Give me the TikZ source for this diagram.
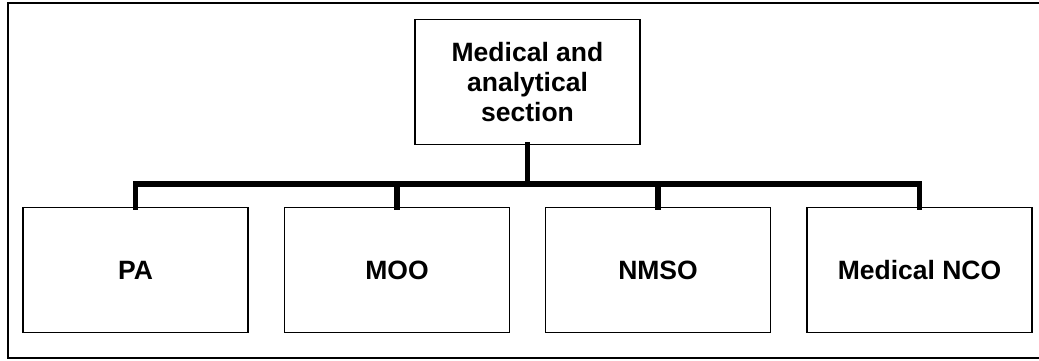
\documentclass[tikz,border=0pt]{standalone}
\usepackage{fontspec}
\setmainfont{Liberation Sans}
\begin{document}
\begin{tikzpicture}[x=1pt,y=-1pt,
  box/.style={draw=black,line width=1.5pt,fill=white,minimum width=225pt,minimum height=125pt,inner sep=0pt,align=center,font=\fontsize{26.5}{30}\selectfont\bfseries},
  bus/.style={line width=5.8pt,line join=miter,line cap=rect},
  frame/.style={line width=2.4pt}]
\useasboundingbox (0,0) rectangle (1039,360);
\draw[frame] (1041,3) -- (8,3) -- (8,358) -- (1041,358);
\node[box] (top) at (527.5,82) {Medical and\\analytical\\section};
\node[box] (pa) at (135.5,270) {PA};
\node[box] (moo) at (397,270) {MOO};
\node[box] (nmso) at (658,270) {NMSO};
\node[box] (nco) at (919.5,270) {Medical NCO};
\coordinate (busy) at (0,184);
\draw[bus] (pa.north) -- (pa.north |- busy) -- (nco.north |- busy) -- (nco.north);
\draw[bus] (top.south) -- (top.south |- busy);
\draw[bus] (moo.north) -- (moo.north |- busy);
\draw[bus] (nmso.north) -- (nmso.north |- busy);
\end{tikzpicture}
\end{document}
